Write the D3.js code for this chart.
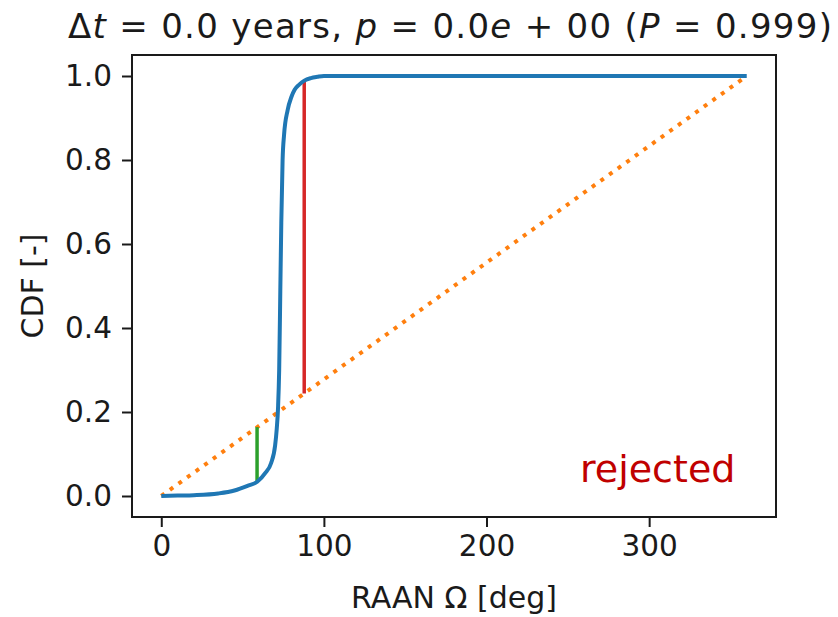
<!DOCTYPE html>
<html>
<head>
<meta charset="utf-8">
<script src="https://cdn.jsdelivr.net/npm/d3@7"></script>
<style>
  body { margin: 0; background: #fff; }
  svg { display: block; }
  text { font-family: "DejaVu Sans", sans-serif; fill: #1a1a1a; }
</style>
</head>
<body>
<svg id="chart" width="838" height="617"></svg>
<script>
const raan = [0, 10, 20, 35, 45, 53, 59, 64, 67.5, 70, 71, 71.8, 72.5, 73.2, 73.8, 74.6, 75.5, 77.7, 80, 82, 85, 88, 92, 96, 100, 360];
const cdf  = [0, 0.001, 0.002, 0.006, 0.013, 0.024, 0.034, 0.055, 0.078, 0.12, 0.16, 0.21, 0.3, 0.49, 0.65, 0.8, 0.86, 0.919, 0.95, 0.967, 0.98, 0.989, 0.995, 0.998, 1.0, 1.0];

// uniform reference CDF
const uniX = [0, 360];
const uniY = [0, 1];

// distance markers: [x, yLow, yHigh]
const greenSeg = [58.9, 0.034, 0.164];
const redSeg = [87.9, 0.244, 0.989];

const xTicks = [0, 100, 200, 300];
const yTicks = [0.0, 0.2, 0.4, 0.6, 0.8, 1.0];

const svg = d3.select("#chart");
const pL = 132, pR = 776, pT = 55, pB = 517;

const x = d3.scaleLinear().domain([-18, 378]).range([pL, pR]);
const y = d3.scaleLinear().domain([-0.05, 1.05]).range([pB, pT]);

const line = d3.line()
  .x(d => x(d[0]))
  .y(d => y(d[1]));

// uniform line (dotted orange)
svg.append("path")
  .datum(uniX.map((v, i) => [v, uniY[i]]))
  .attr("fill", "none")
  .attr("stroke", "#ff7f0e")
  .attr("stroke-width", 4)
  .attr("stroke-dasharray", "4,6.6")
  .attr("d", line);

// green & red segments
[[greenSeg, "#2ca02c"], [redSeg, "#d62728"]].forEach(([s, c]) => {
  svg.append("path")
    .datum([[s[0], s[1]], [s[0], s[2]]])
    .attr("fill", "none")
    .attr("stroke", c)
    .attr("stroke-width", 3.5)
    .attr("d", line);
});

// CDF curve
svg.append("path")
  .datum(raan.map((v, i) => [v, cdf[i]]))
  .attr("fill", "none")
  .attr("stroke", "#1f77b4")
  .attr("stroke-width", 4)
  .attr("stroke-linejoin", "round")
  .attr("d", d3.line().x(d => x(d[0])).y(d => y(d[1])).curve(d3.curveMonotoneX));

// axes
const xAxis = svg.append("g")
  .attr("transform", `translate(0,${pB})`)
  .call(d3.axisBottom(x).tickValues(xTicks).tickSize(10).tickPadding(8).tickFormat(d3.format("d")));
const yAxis = svg.append("g")
  .attr("transform", `translate(${pL},0)`)
  .call(d3.axisLeft(y).tickValues(yTicks).tickSize(10).tickPadding(10).tickFormat(d3.format(".1f")));

[xAxis, yAxis].forEach(g => {
  g.select(".domain").remove();
  g.selectAll("line").attr("stroke", "#1a1a1a").attr("stroke-width", 2);
  g.selectAll("text").attr("font-size", 29.5).attr("font-family", "DejaVu Sans").attr("fill", "#1a1a1a");
});

// frame
svg.append("rect")
  .attr("x", pL).attr("y", pT)
  .attr("width", pR - pL).attr("height", pB - pT)
  .attr("fill", "none")
  .attr("stroke", "#1a1a1a")
  .attr("stroke-width", 2);

// axis labels
svg.append("text")
  .attr("x", (pL + pR) / 2)
  .attr("y", 608)
  .attr("text-anchor", "middle")
  .attr("font-size", 30)
  .text("RAAN Ω [deg]");

svg.append("text")
  .attr("transform", `translate(43,${(pT + pB) / 2}) rotate(-90)`)
  .attr("text-anchor", "middle")
  .attr("font-size", 30)
  .text("CDF [-]");

// title with math italics (mathtext spacing is wider than plain text)
const title = svg.append("text")
  .attr("x", 450)
  .attr("y", 38)
  .attr("text-anchor", "middle")
  .attr("font-size", 34)
  .attr("textLength", 764)
  .attr("lengthAdjust", "spacing");
const parts = [["Δ", false], ["t", true], [" = 0.0 years, ", false], ["p", true], [" = 0.0", false], ["e", true], [" + 00 (", false], ["P", true], [" = 0.999)", false]];
parts.forEach(([t, it]) => {
  title.append("tspan").attr("font-style", it ? "italic" : "normal").text(t);
});

// annotation
svg.append("text")
  .attr("x", 580)
  .attr("y", 482)
  .attr("font-family", "Open Sans, sans-serif")
  .attr("font-size", 38)
  .style("fill", "#c00000")
  .text("rejected");
</script>
</body>
</html>
